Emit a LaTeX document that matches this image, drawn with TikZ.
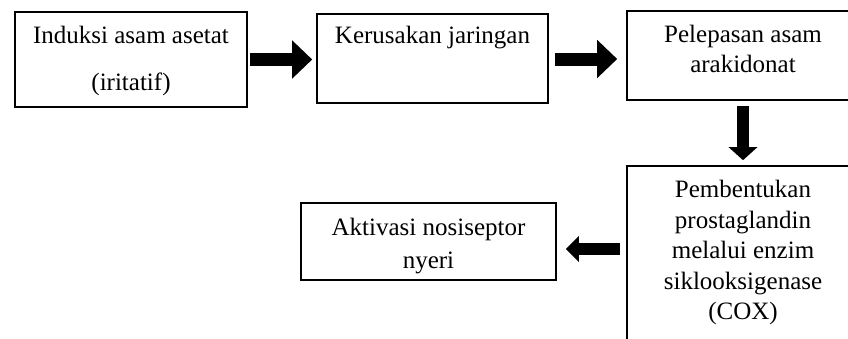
\documentclass[tikz,border=0pt]{standalone}
\usepackage{fontspec}
\setmainfont{Liberation Serif}
\usetikzlibrary{arrows.meta}
\begin{document}
\begin{tikzpicture}[x=1pt,y=-1pt,
  box/.style={draw=black, line width=1.6pt, inner sep=0pt},
  txt/.style={anchor=base, inner sep=0pt, text=black, font=\fontsize{25}{30}\selectfont},
  bigarrow/.style={line width=13pt, -{Triangle[length=20pt,width=37pt]}},
  smallarrow/.style={line width=12pt, -{Triangle[length=13pt,width=#1]}},
]
\useasboundingbox (0,0) rectangle (848,338);
\clip (0,0) rectangle (848,338);
\fill[white] (0,0) rectangle (848,338);

% boxes
\node[box, minimum width=232pt, minimum height=95pt] (b1) at (131,59.5) {};
\node[box, minimum width=231pt, minimum height=89pt] (b2) at (432.5,58.5) {};
\node[box, minimum width=232pt, minimum height=89pt] (b3) at (743,55.5) {};
\node[box, minimum width=232pt, minimum height=204pt] (b4) at (743,268) {};
\node[box, minimum width=255pt, minimum height=77pt] (b5) at (428.5,241.5) {};

% texts
\node[txt] (t1a) at (131,43) {Induksi asam asetat};
\node[txt] (t1b) at (131,90) {(iritatif)};
\node[txt] (t2a) at (432.5,43) {Kerusakan jaringan};
\node[txt] (t3a) at (743,42) {Pelepasan asam};
\node[txt] (t3b) at (743,72) {arakidonat};
\node[txt] (t4a) at (743,197) {Pembentukan};
\node[txt] (t4b) at (743,228) {prostaglandin};
\node[txt] (t4c) at (743,258.5) {melalui enzim};
\node[txt] (t4d) at (743,289) {siklooksigenase};
\node[txt] (t4e) at (743,319.5) {(COX)};
\node[txt] (t5a) at (428.5,235) {Aktivasi nosiseptor};
\node[txt] (t5b) at (428.5,268) {nyeri};

% arrows
\draw[bigarrow, shorten <=2pt, shorten >=4pt] (b1.east) -- (b1.east -| b2.west);
\coordinate (a2s) at (b2.east |- 0,59);
\draw[bigarrow, shorten <=6pt, shorten >=9pt] (a2s) -- (a2s -| b3.west);
\draw[smallarrow=28pt, shorten <=5pt, shorten >=5pt] (b3.south) -- (b4.north);
\coordinate (a4s) at (b4.west |- 0,249);
\draw[smallarrow=25pt, shorten <=6pt, shorten >=9pt] (a4s) -- (a4s -| b5.east);
\end{tikzpicture}
\end{document}
